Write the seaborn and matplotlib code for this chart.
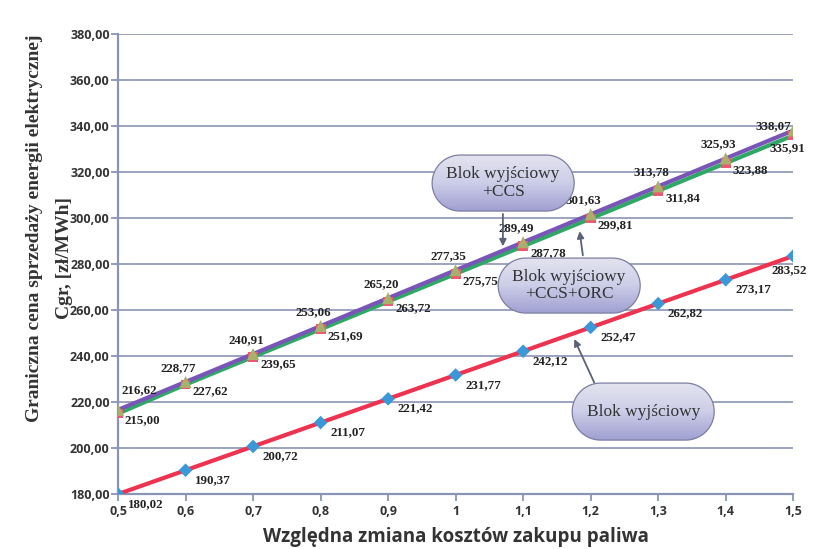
import numpy as np
import pandas as pd
import seaborn as sns
import matplotlib.pyplot as plt
from matplotlib.patches import Polygon
from matplotlib.colors import LinearSegmentedColormap
from matplotlib.transforms import Affine2D

# data
zmiana = [0.5, 0.6, 0.7, 0.8, 0.9, 1.0, 1.1, 1.2, 1.3, 1.4, 1.5]
x_labels = ["0,5", "0,6", "0,7", "0,8", "0,9", "1", "1,1", "1,2", "1,3", "1,4", "1,5"]
blok = [180.02, 190.37, 200.72, 211.07, 221.42, 231.77, 242.12, 252.47, 262.82, 273.17, 283.52]
blok_ccs = [216.62, 228.77, 240.91, 253.06, 265.20, 277.35, 289.49, 301.63, 313.78, 325.93, 338.07]
blok_ccs_orc = [215.00, 227.62, 239.65, 251.69, 263.72, 275.75, 287.78, 299.81, 311.84, 323.88, 335.91]
y_ticks = [180, 200, 220, 240, 260, 280, 300, 320, 340, 360, 380]

df = pd.DataFrame({"x": zmiana, "blok": blok, "ccs": blok_ccs, "orc": blok_ccs_orc})

sns.set_theme(style="white")
plt.rcParams['font.family'] = ['Open Sans', 'DejaVu Sans']

axis_col = "#8a94b4"
fig = plt.figure(figsize=(8.22, 5.49), dpi=100)
ax = fig.add_axes([0.1436, 0.100, 0.8214, 0.838])

def fmt(v):
    return f"{v:.2f}".replace(".", ",")

# lines
sns.lineplot(data=df, x="x", y="blok", color="#ee3350", lw=3.0, ax=ax, zorder=3)
sns.scatterplot(data=df, x="x", y="blok", marker="D", s=48, color="#3a98d8",
                edgecolor="none", ax=ax, zorder=4)
sns.lineplot(data=df, x="x", y="orc", color="#2fa866", lw=3.0, ax=ax, zorder=3)
sns.lineplot(data=df, x="x", y="ccs", color="#7a55b8", lw=3.0, ax=ax, zorder=3)
sns.scatterplot(data=df, x="x", y="orc", marker="s", s=50, color="#ea5a70",
                edgecolor="none", ax=ax, zorder=4)
sns.scatterplot(data=df, x="x", y="ccs", marker="^", s=75, color="#a9b06c",
                edgecolor="none", ax=ax, zorder=5)

lab_font = dict(family=['Liberation Serif'], fontsize=9.4, fontweight='bold', color="#222222")
n = len(zmiana)
for i in range(n):
    last = i == n - 1
    # baseline labels: below right
    ax.annotate(fmt(blok[i]), (zmiana[i], blok[i]),
                xytext=(-3, -10) if last else (7, -7), textcoords="offset points",
                ha="center" if last else "left", va="center", **lab_font)
    # CCS+ORC labels: below right
    ax.annotate(fmt(blok_ccs_orc[i]), (zmiana[i], blok_ccs_orc[i]),
                xytext=(-4, -9) if last else (5, -5), textcoords="offset points",
                ha="center" if last else "left", va="center", **lab_font)
    # CCS labels: above
    if i == 0:
        off = (15, 14)
    elif last:
        off = (-14, 3)
    else:
        off = (-5, 10)
    ax.annotate(fmt(blok_ccs[i]), (zmiana[i], blok_ccs[i]), xytext=off,
                textcoords="offset points", ha="center", va="center", **lab_font)

ax.set_xlim(0.5, 1.5)
ax.set_ylim(180, 380)
ax.set_xticks(zmiana)
ax.set_xticklabels(x_labels)
ax.set_yticks(y_ticks)
ax.set_yticklabels([f"{v},00" for v in y_ticks])
ax.yaxis.grid(True, color=axis_col, lw=1.2)
ax.xaxis.grid(False)
for s in ["top", "right"]:
    ax.spines[s].set_visible(False)
for s in ["left", "bottom"]:
    ax.spines[s].set_color(axis_col)
    ax.spines[s].set_linewidth(1.6)
ax.tick_params(axis="both", direction="out", length=5, width=1.3, color=axis_col,
               labelsize=9, labelcolor="#333333")
ax.tick_params(axis="y", pad=1)
ax.tick_params(axis="x", pad=3)
ax.tick_params(left=True, bottom=True)
for t in ax.get_xticklabels() + ax.get_yticklabels():
    t.set_fontweight("bold")

ax.set_xlabel("Względna zmiana kosztów zakupu paliwa", fontsize=13.5, fontweight="bold",
              color="#333333", labelpad=6)
ax.set_ylabel("")
ylab_font = dict(family=['Liberation Serif'], fontsize=14, fontweight="bold", color="#333333",
                 rotation=90, ha="center", va="center", transform=ax.transAxes)
ax.text(-0.123, 0.578, "Graniczna cena sprzedaży energii elektrycznej", **ylab_font)
ax.text(-0.079, 0.513, "Cgr, [zł/MWh]", **ylab_font)

# callout boxes (capsules with gradient fill), positioned in pixels from the axes origin
px = Affine2D().scale(1 / 675, 1 / 460) + ax.transAxes
cmap = LinearSegmentedColormap.from_list("box", ["#a0a0d2", "#cdcee8", "#e4e4ef"])
grad = np.linspace(0, 1, 64).reshape(-1, 1)
boxes = [
    ((314, 283, 142, 56), "Blok wyjściowy\n+CCS"),
    ((380, 181, 142, 55), "Blok wyjściowy\n+CCS+ORC"),
    ((454, 54, 142, 57), "Blok wyjściowy"),
]

def capsule(x0, y0, w, h):
    r = h / 2
    yc = y0 + r
    t_r = np.radians(np.linspace(-90, 90, 40))
    t_l = np.radians(np.linspace(90, 270, 40))
    right = np.column_stack([x0 + w - r + r * np.cos(t_r), yc + r * np.sin(t_r)])
    left = np.column_stack([x0 + r + r * np.cos(t_l), yc + r * np.sin(t_l)])
    return np.vstack([right, left])

for (x0, y0, w, h), txt in boxes:
    patch = Polygon(capsule(x0, y0, w, h), closed=True, transform=px, facecolor="none",
                    edgecolor="#7c7ea0", lw=0.9, zorder=7)
    ax.add_patch(patch)
    im = ax.imshow(grad, cmap=cmap, origin="lower", extent=[x0, x0 + w, y0, y0 + h],
                   transform=px, aspect="auto", zorder=6)
    im.set_clip_path(patch)
    ax.text(x0 + w / 2, y0 + h / 2, txt, transform=px, ha="center", va="center",
            family=['Liberation Serif'], fontsize=12.5, color="#333333",
            linespacing=1.1, zorder=8)

arrow_kw = dict(arrowstyle="-|>", color="#5a6278", lw=1.3, mutation_scale=10)
ax.annotate("", xy=(1.070, 286.5), xytext=(1.070, 303.0), arrowprops=arrow_kw, zorder=9)
ax.annotate("", xy=(1.183, 295.5), xytext=(1.189, 282.6), arrowprops=arrow_kw, zorder=9)
ax.annotate("", xy=(1.174, 248.5), xytext=(1.207, 227.4), arrowprops=arrow_kw, zorder=9)

ax.set_xlim(0.5, 1.5)
ax.set_ylim(180, 380)

fig.savefig("out.png", dpi=100, facecolor="white")
